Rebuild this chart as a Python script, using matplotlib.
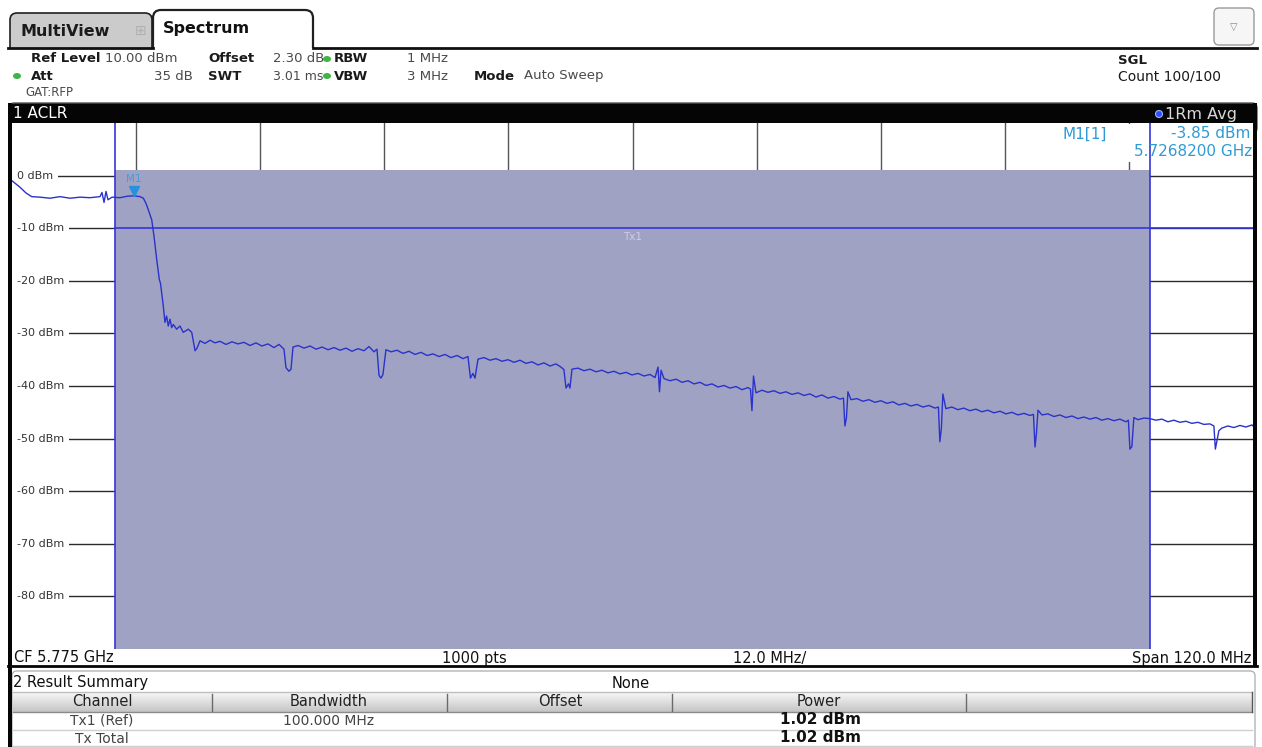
import numpy as np
import matplotlib
matplotlib.use("Agg")
import matplotlib.pyplot as plt
from matplotlib.patches import Rectangle, FancyBboxPatch, PathPatch, Ellipse
from matplotlib.path import Path
import matplotlib.transforms as mtransforms

plt.rcParams['font.family'] = ['DejaVu Sans']

# ---------------- data ----------------
center_freq_mhz = 5775.0
span_mhz = 120.0
ref_level_dbm = 10.0
db_per_div = 10.0
n_divs = 10
channel_center_mhz = 5775.0
channel_bw_mhz = 100.0
channel_power_dbm = 1.02
tx_line_dbm = -10.0
marker_freq_mhz = 5726.82
marker_level_dbm = -3.85

level_values = [0, -10, -20, -30, -40, -50, -60, -70, -80]
level_labels = ['0 dBm', '-10 dBm', '-20 dBm', '-30 dBm', '-40 dBm',
                '-50 dBm', '-60 dBm', '-70 dBm', '-80 dBm']

trace_freq_mhz = [
    5715.00, 5715.07, 5715.77, 5716.35, 5716.90, 5717.71, 5718.67, 5719.64, 5720.61, 5721.58,
    5722.54, 5723.51, 5723.70, 5723.90, 5724.09, 5724.28, 5724.67, 5725.44, 5726.22, 5726.82,
    5727.38, 5727.70, 5727.96, 5728.18, 5728.51, 5728.73, 5728.99, 5729.24, 5729.36, 5729.47,
    5729.63, 5729.79, 5729.95, 5730.11, 5730.28, 5730.44, 5730.60, 5730.92, 5731.24, 5731.56,
    5732.05, 5732.38, 5732.70, 5732.89, 5733.18, 5733.66, 5734.15, 5734.63, 5735.11, 5735.69,
    5736.27, 5736.85, 5737.43, 5738.01, 5738.59, 5739.17, 5739.75, 5740.33, 5740.82, 5741.30,
    5741.49, 5741.78, 5741.98, 5742.17, 5742.66, 5743.24, 5743.82, 5744.40, 5744.98, 5745.56,
    5746.14, 5746.72, 5747.30, 5747.88, 5748.46, 5749.04, 5749.52, 5750.00, 5750.29, 5750.49,
    5750.68, 5750.87, 5751.16, 5751.65, 5752.23, 5752.81, 5753.39, 5753.97, 5754.55, 5755.13,
    5755.71, 5756.29, 5756.87, 5757.45, 5758.03, 5758.61, 5759.09, 5759.33, 5759.57, 5759.77,
    5760.06, 5760.64, 5761.22, 5761.80, 5762.38, 5762.96, 5763.54, 5764.12, 5764.70, 5765.28,
    5765.86, 5766.44, 5767.02, 5767.60, 5768.08, 5768.37, 5768.57, 5768.81, 5768.95, 5769.15,
    5769.73, 5770.31, 5770.89, 5771.47, 5772.05, 5772.63, 5773.21, 5773.79, 5774.37, 5774.95,
    5775.53, 5776.11, 5776.69, 5777.18, 5777.47, 5777.61, 5777.76, 5778.05, 5778.63, 5779.21,
    5779.79, 5780.37, 5780.95, 5781.53, 5782.11, 5782.69, 5783.27, 5783.85, 5784.43, 5785.01,
    5785.59, 5786.17, 5786.41, 5786.55, 5786.70, 5786.94, 5787.52, 5788.10, 5788.68, 5789.26,
    5789.84, 5790.42, 5791.00, 5791.58, 5792.16, 5792.74, 5793.32, 5793.90, 5794.48, 5795.06,
    5795.40, 5795.54, 5795.69, 5795.83, 5796.12, 5796.70, 5797.28, 5797.86, 5798.44, 5799.02,
    5799.60, 5800.18, 5800.76, 5801.34, 5801.92, 5802.50, 5803.08, 5803.66, 5804.24, 5804.58,
    5804.72, 5804.87, 5805.01, 5805.30, 5805.88, 5806.46, 5807.04, 5807.62, 5808.20, 5808.78,
    5809.36, 5809.94, 5810.54, 5811.11, 5811.69, 5812.27, 5812.85, 5813.43, 5813.77, 5813.92,
    5814.06, 5814.21, 5814.59, 5815.17, 5815.75, 5816.33, 5816.91, 5817.49, 5818.07, 5818.65,
    5819.23, 5819.81, 5820.39, 5820.97, 5821.55, 5822.13, 5822.71, 5822.95, 5823.10, 5823.29,
    5823.48, 5823.87, 5824.45, 5825.03, 5825.61, 5826.19, 5826.77, 5827.35, 5827.93, 5828.51,
    5829.09, 5829.67, 5830.25, 5830.83, 5831.22, 5831.36, 5831.51, 5831.70, 5831.99, 5832.57,
    5833.15, 5833.74, 5834.32, 5834.90, 5835.00]

trace_level_dbm = [
    -1.0, -1.1, -2.2, -3.3, -4.0, -4.1, -4.3, -4.0, -4.3, -4.1,
    -4.2, -4.0, -3.2, -5.1, -3.0, -4.6, -4.1, -4.2, -3.9, -3.85,
    -4.0, -4.3, -5.3, -6.5, -8.4, -11.5, -15.9, -19.7, -20.5, -22.3,
    -24.8, -27.9, -26.7, -28.6, -27.3, -28.9, -28.3, -29.2, -28.6, -29.8,
    -29.2, -29.8, -33.3, -32.8, -31.4, -31.9, -31.3, -31.8, -31.5, -32.1,
    -31.6, -32.0, -31.7, -32.3, -31.8, -32.4, -32.0, -32.7, -32.1, -33.0,
    -36.5, -37.2, -36.8, -32.6, -32.3, -32.8, -32.4, -33.0, -32.6, -33.1,
    -32.7, -33.2, -32.8, -33.4, -32.9, -33.3, -32.5, -33.5, -33.0, -38.0,
    -38.5, -37.8, -33.1, -33.5, -33.2, -33.8, -33.4, -34.0, -33.6, -34.2,
    -33.9, -34.4, -34.0, -34.6, -34.2, -34.8, -34.4, -38.5, -37.6, -38.5,
    -34.9, -34.6, -35.1, -34.8, -35.3, -35.0, -35.5, -35.1, -35.7, -35.4,
    -36.0, -35.6, -36.2, -35.8, -36.4, -36.9, -40.4, -39.6, -40.4, -36.8,
    -36.6, -37.1, -36.8, -37.3, -37.0, -37.5, -37.2, -37.7, -37.4, -37.9,
    -37.6, -38.1, -37.8, -38.4, -36.4, -41.1, -37.0, -38.6, -39.0, -38.7,
    -39.3, -39.0, -39.6, -39.3, -39.9, -39.6, -40.2, -39.9, -40.4, -40.1,
    -40.7, -40.3, -40.6, -44.7, -38.1, -41.3, -40.8, -41.2, -40.9, -41.4,
    -41.1, -41.6, -41.3, -41.8, -41.5, -42.1, -41.7, -42.3, -42.0, -42.5,
    -42.3, -47.6, -46.0, -41.1, -42.6, -42.4, -42.9, -42.6, -43.1, -42.8,
    -43.3, -43.0, -43.6, -43.3, -43.8, -43.5, -44.0, -43.7, -44.2, -44.0,
    -50.6, -48.0, -41.5, -44.3, -44.0, -44.5, -44.2, -44.7, -44.4, -44.9,
    -44.6, -45.1, -44.8, -45.3, -45.0, -45.5, -45.2, -45.6, -45.4, -51.6,
    -49.0, -44.6, -45.5, -45.3, -45.8, -45.5, -46.0, -45.7, -46.2, -45.9,
    -46.3, -46.0, -46.5, -46.2, -46.6, -46.3, -46.8, -46.5, -52.0, -51.5,
    -46.0, -46.4, -46.1, -46.2, -46.5, -46.3, -46.8, -46.5, -46.9, -46.7,
    -47.1, -46.9, -47.3, -47.2, -47.6, -52.0, -50.5, -48.5, -48.0, -47.6,
    -47.9, -47.5, -47.8, -47.4, -47.6]

# result table
table_columns = ['Channel', 'Bandwidth', 'Offset', 'Power']
table_channels = ['Tx1 (Ref)', 'Tx Total']
table_bandwidths = ['100.000 MHz', '']
table_powers = ['1.02 dBm', '1.02 dBm']

# ---------------- figure ----------------
W, H = 1262, 747
fig = plt.figure(figsize=(W / 100, H / 100), dpi=100)
ov = fig.add_axes([0, 0, 1, 1])
ov.set_xlim(0, W)
ov.set_ylim(H, 0)
ov.axis('off')
ov.set_zorder(0)
P = ov.transData

BLUE = '#3535dc'
TRACE = '#2a32cc'
SHADE = '#a0a2c3'
CYAN = '#2f9ad6'
GREEN = '#3fb548'

# --- tabs ---
def tab(x0, x1, ytop, ybot, r, fc, lw):
    verts = [(x0, ybot), (x0, ytop + r), (x0, ytop), (x0 + r, ytop),
             (x1 - r, ytop), (x1, ytop), (x1, ytop + r), (x1, ybot)]
    codes = [Path.MOVETO, Path.LINETO, Path.CURVE3, Path.CURVE3,
             Path.LINETO, Path.CURVE3, Path.CURVE3, Path.LINETO]
    ov.add_patch(PathPatch(Path(verts, codes), fc=fc, ec='#202020', lw=lw, zorder=2))

tab(10, 152, 13, 48, 7, '#cbcbcb', 1.2)
tab(153, 313, 10, 48, 8, 'white', 1.6)
ov.plot([8, 153], [48, 48], color='#101010', lw=2, zorder=3)
ov.plot([313, 1257], [48, 48], color='#101010', lw=2, zorder=3)
ov.text(20, 31, 'MultiView', fontsize=11.5, fontweight='bold', color='#1a1a1a', va='center')
ov.text(141, 31, '\u229e', fontsize=10, color='#b0b0b0', va='center', ha='center')
ov.text(163, 28, 'Spectrum', fontsize=11.5, fontweight='bold', color='#111111', va='center')
ov.add_patch(FancyBboxPatch((1214, 8), 40, 37, boxstyle='round,pad=0,rounding_size=5',
                            fc='#f6f6f6', ec='#9a9a9a', lw=1, zorder=2))
ov.text(1234, 27, '\u25bd', fontsize=7, color='#888888', ha='center', va='center')

# --- header info ---
def lab(x, y, s, bold=False, ha='left', size=9.5):
    ov.text(x, y, s, fontsize=size, fontweight='bold' if bold else 'normal',
            color='#1a1a1a' if bold else '#4a4a4a', ha=ha, va='center')

def dot(x, y):
    ov.add_patch(Ellipse((x, y), 8, 6, fc=GREEN, ec='none', zorder=3))

lab(31, 59, 'Ref Level', True)
lab(105, 59, '10.00 dBm')
lab(208, 59, 'Offset', True)
lab(273, 59, '2.30 dB')
dot(327, 59)
lab(334, 59, 'RBW', True)
lab(407, 59, '1 MHz')
dot(17, 76)
lab(31, 76, 'Att', True)
lab(193, 76, '35 dB', ha='right')
lab(208, 76, 'SWT', True)
lab(273, 76, '3.01 ms', size=9)
dot(327, 76)
lab(334, 76, 'VBW', True)
lab(407, 76, '3 MHz')
lab(474, 76, 'Mode', True)
lab(524, 76, 'Auto Sweep')
lab(25, 92, 'GAT:RFP', size=8.5)
lab(1118, 60, 'SGL', True)
ov.text(1118, 77, 'Count 100/100', fontsize=10, color='#1a1a1a', va='center')

# --- black window title bar ---
ov.add_patch(FancyBboxPatch((9, 103), 1248, 30, boxstyle='round,pad=0,rounding_size=5',
                            fc='#050505', ec='#555555', lw=1, zorder=2))
ov.text(13, 114, '1 ACLR', fontsize=11, color='white', va='center', zorder=3)
ov.add_patch(Ellipse((1159, 114), 7, 7, fc='#2a50ff', ec='#9ab0ff', lw=0.8, zorder=3))
ov.text(1165, 114, '1Rm Avg', fontsize=11.5, color='#d8d8d8', va='center', ha='left', zorder=3)

# --- frame borders ---
ov.add_patch(Rectangle((8, 103), 4, 644, fc='#050505', ec='none', zorder=4))
ov.add_patch(Rectangle((1253, 103), 4, 564, fc='#050505', ec='none', zorder=4))
ov.plot([8, 1257], [666, 666], color='#050505', lw=2, zorder=4)

# --- CF row ---
ov.text(14, 658, 'CF 5.775 GHz', fontsize=10.5, color='#111111', va='center')
ov.text(442, 658, '1000 pts', fontsize=10.5, color='#111111', va='center')
ov.text(733, 658, '12.0 MHz/', fontsize=10.5, color='#111111', va='center')
ov.text(1251, 658, 'Span 120.0 MHz', fontsize=10.5, color='#111111', va='center', ha='right')

# --- result summary ---
ov.add_patch(FancyBboxPatch((12, 671), 1243, 90, boxstyle='round,pad=0,rounding_size=5',
                            fc='white', ec='#b4b4b4', lw=1, zorder=1))
grad = np.linspace(0.97, 0.77, 40).reshape(-1, 1)
ov.imshow(grad, cmap='gray', vmin=0, vmax=1, extent=(13, 1252, 712, 692), aspect='auto', zorder=2)
ov.set_xlim(0, W)
ov.set_ylim(H, 0)
ov.plot([13, 1252], [692, 692], color='#bdbdbd', lw=1, zorder=3)
ov.plot([13, 1252], [712, 712], color='#8a8a8a', lw=1, zorder=3)
ov.plot([1252, 1252], [692, 712], color='#555555', lw=1, zorder=3)
for xs in [212, 447, 672, 966]:
    ov.plot([xs, xs], [694, 711], color='#6a6a6a', lw=1, zorder=3)
ov.plot([13, 1252], [730, 730], color='#cfcfcf', lw=1, zorder=3)
ov.plot([13, 1252], [746, 746], color='#cfcfcf', lw=1, zorder=3)
ov.text(13, 683, '2 Result Summary', fontsize=10.5, color='#111111', va='center')
ov.text(631, 683, 'None', fontsize=10.5, color='#111111', va='center', ha='center')
col_centers = [102, 329, 560, 819]
for cx, name in zip(col_centers, table_columns):
    ov.text(cx, 702, name, fontsize=10.5, color='#222222', ha='center', va='center', zorder=4)
row_y = [721, 739]
for ry, ch, bw, pw in zip(row_y, table_channels, table_bandwidths, table_powers):
    ov.text(102, ry, ch, fontsize=10, color='#444444', ha='center', va='center', zorder=4)
    ov.text(329, ry, bw, fontsize=10, color='#444444', ha='center', va='center', zorder=4)
    ov.text(821, ry - 2, pw, fontsize=11, fontweight='bold', color='#111111',
            ha='center', va='center', zorder=4)

# ---------------- spectrum plot ----------------
x0p, x1p, y0p, y1p = 12, 1253, 123, 649
ax = fig.add_axes([x0p / W, (H - y1p) / H, (x1p - x0p) / W, (y1p - y0p) / H])
ax.set_zorder(2)
ax.set_facecolor('white')
for s in ax.spines.values():
    s.set_visible(False)
ax.set_xticks([])
ax.set_yticks([])

f_lo = center_freq_mhz - span_mhz / 2
f_hi = center_freq_mhz + span_mhz / 2
y_lo = ref_level_dbm - n_divs * db_per_div

# grid
for k in range(1, n_divs):
    ax.axvline(f_lo + k * span_mhz / n_divs, color='#555555', lw=1, zorder=1)
for lv, lb in zip(level_values, level_labels):
    ax.axhline(lv, color='#2a2a2a', lw=1, zorder=1)
    ax.annotate(lb, xy=(f_lo, lv), xytext=(3.5, 0), textcoords='offset points',
                fontsize=8, color='#333333', va='center', ha='left', zorder=2,
                bbox=dict(boxstyle='square,pad=0.45', fc='white', ec='none'))

# channel bar
ch_lo = channel_center_mhz - channel_bw_mhz / 2
ch_hi = channel_center_mhz + channel_bw_mhz / 2
ax.add_patch(Rectangle((ch_lo, y_lo), ch_hi - ch_lo, channel_power_dbm - y_lo,
                       fc=SHADE, ec='none', zorder=3))
ax.plot([ch_lo, f_hi], [tx_line_dbm, tx_line_dbm], color=BLUE, lw=1.2, zorder=4)
ax.axvline(ch_lo, color=BLUE, lw=1.2, zorder=4)
ax.annotate('Tx1', xy=(channel_center_mhz, tx_line_dbm), xytext=(0, -3),
            textcoords='offset points', fontsize=7.5, color='#cdcee3',
            ha='center', va='top', zorder=4)

# trace
ax.plot(trace_freq_mhz, trace_level_dbm, color=TRACE, lw=1.0, zorder=5)

# marker
tri_tr = mtransforms.offset_copy(ax.transData, fig=fig, x=0, y=5, units='dots')
ax.plot([marker_freq_mhz], [marker_level_dbm], marker='v', ms=7, color='#2592e0',
        mec='#2592e0', transform=tri_tr, zorder=6)
ax.annotate('M1', xy=(marker_freq_mhz, marker_level_dbm), xytext=(0, 12),
            textcoords='offset points', fontsize=7.5, color='#3aa0e0',
            ha='center', va='center', zorder=6)

# marker readout
ax.add_patch(Rectangle((1045, 124), 207, 38, transform=P, fc='white', ec='none',
                       zorder=6, clip_on=False))
ax.axvline(ch_hi, color=BLUE, lw=1.2, zorder=7)
ax.text(1062, 134, 'M1[1]', transform=P, fontsize=11, color=CYAN, va='center', zorder=8)
ax.text(1250, 134, '%.2f dBm' % marker_level_dbm, transform=P, fontsize=11, color=CYAN,
        va='center', ha='right', zorder=8)
ax.text(1252, 151, '%.7f GHz' % (marker_freq_mhz / 1000), transform=P, fontsize=11,
        color=CYAN, va='center', ha='right', zorder=8)

ax.set_xlim(f_lo, f_hi)
ax.set_ylim(y_lo, ref_level_dbm)

fig.savefig('out.png', dpi=100)
